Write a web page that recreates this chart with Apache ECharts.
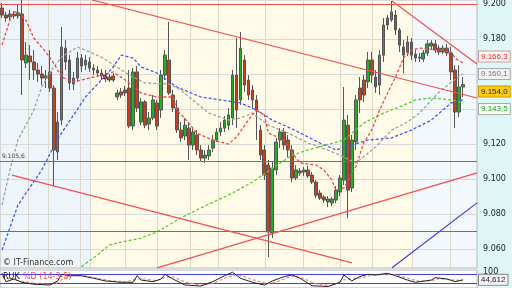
<!DOCTYPE html>
<html><head><meta charset="utf-8">
<script src="https://cdn.jsdelivr.net/npm/echarts/dist/echarts.min.js"></script>
<style>html,body{margin:0;padding:0;background:#fff}#c{width:512px;height:288px}</style>
</head><body><div id="c"></div>
<script>
// ---- price candles (index = bar number) ----
const opens = [9.1977,9.1937,9.1926,9.1943,9.1932,9.1943,9.1663,9.1703,9.1669,9.1623,
9.1600,9.1577,9.1612,9.1520,9.1155,9.1337,9.1748,9.1680,9.1543,9.1577,
9.1691,9.1651,9.1669,9.1634,9.1623,9.1606,9.1594,9.1583,9.1589,9.1469,
9.1498,9.1509,9.1520,9.1303,9.1612,9.1326,9.1441,9.1314,9.1349,9.1435,
9.1394,9.1594,9.1680,9.1480,9.1406,9.1280,9.1246,9.1291,9.1194,9.1252,
9.1166,9.1120,9.1132,9.1177,9.1223,9.1269,9.1291,9.1308,9.1349,9.1594,
9.1452,9.1680,9.1566,9.1509,9.1452,9.1280,9.1166,9.1080,9.0692,9.1052,
9.1223,9.1269,9.1223,9.1166,9.1006,9.1046,9.1040,9.1052,9.1023,9.0983,
9.0920,9.0897,9.0869,9.0863,9.0880,9.0926,9.0994,9.1308,9.0949,9.1212,
9.1520,9.1566,9.1555,9.1680,9.1583,9.1537,9.1708,9.1920,9.1909,9.1937,
9.1852,9.1754,9.1726,9.1783,9.1714,9.1697,9.1686,9.1720,9.1760,9.1772,
9.1748,9.1726,9.1748,9.1720,9.1623,9.1383,9.1526];
const closes = [9.1937,9.1920,9.1943,9.1932,9.1949,9.1680,9.1708,9.1669,9.1623,9.1600,
9.1577,9.1589,9.1520,9.1166,9.1326,9.1754,9.1669,9.1549,9.1577,9.1691,
9.1646,9.1680,9.1634,9.1623,9.1606,9.1589,9.1572,9.1566,9.1566,9.1492,
9.1480,9.1492,9.1303,9.1612,9.1406,9.1441,9.1308,9.1349,9.1452,9.1303,
9.1594,9.1708,9.1492,9.1406,9.1280,9.1235,9.1308,9.1194,9.1269,9.1166,
9.1120,9.1137,9.1166,9.1223,9.1269,9.1291,9.1337,9.1366,9.1594,9.1394,
9.1748,9.1537,9.1480,9.1452,9.1394,9.1137,9.1023,9.0698,9.1063,9.1212,
9.1269,9.1194,9.1166,9.1006,9.1052,9.1035,9.1052,9.1018,9.0983,9.0908,
9.0891,9.0880,9.0886,9.0886,9.0937,9.1006,9.1337,9.0937,9.1223,9.1452,
9.1452,9.1480,9.1680,9.1594,9.1526,9.1708,9.1880,9.1880,9.1955,9.1852,
9.1765,9.1708,9.1783,9.1708,9.1691,9.1691,9.1720,9.1772,9.1777,9.1737,
9.1726,9.1748,9.1720,9.1612,9.1383,9.1526,9.1540];
const lows = [9.1920,9.1898,9.1909,9.1915,9.1915,9.1480,9.1634,9.1566,9.1566,9.1555,
9.1537,9.1520,9.1498,9.0960,9.1109,9.1308,9.1623,9.1509,9.1509,9.1555,
9.1612,9.1623,9.1612,9.1594,9.1583,9.1566,9.1555,9.1555,9.1555,9.1452,
9.1463,9.1475,9.1291,9.1280,9.1383,9.1308,9.1291,9.1280,9.1337,9.1280,
9.1349,9.1566,9.1480,9.1383,9.1263,9.1212,9.1223,9.1109,9.1166,9.1137,
9.1098,9.1092,9.1109,9.1155,9.1212,9.1246,9.1269,9.1280,9.1308,9.1291,
9.1423,9.1498,9.1452,9.1406,9.1223,9.1109,9.0994,9.0554,9.0663,9.1023,
9.1177,9.1166,9.1126,9.0983,9.0994,9.1018,9.1018,9.1006,9.0971,9.0891,
9.0880,9.0863,9.0840,9.0846,9.0863,9.0903,9.0966,9.0777,9.0926,9.1166,
9.1377,9.1440,9.1520,9.1549,9.1492,9.1480,9.1669,9.1852,9.1898,9.1823,
9.1726,9.1606,9.1703,9.1680,9.1669,9.1669,9.1669,9.1703,9.1737,9.1720,
9.1708,9.1714,9.1703,9.1566,9.1291,9.1354,9.1469];
const highs = [9.2006,9.1955,9.1966,9.1960,9.1994,9.2023,9.1783,9.1765,9.1737,9.1663,
9.1646,9.1623,9.1737,9.1537,9.1383,9.1869,9.1794,9.1708,9.1612,9.1726,
9.1714,9.1708,9.1697,9.1657,9.1646,9.1629,9.1623,9.1600,9.1606,9.1509,
9.1520,9.1532,9.1623,9.1634,9.1646,9.1463,9.1452,9.1383,9.1480,9.1452,
9.1623,9.1737,9.1898,9.1509,9.1452,9.1326,9.1349,9.1326,9.1291,9.1280,
9.1194,9.1166,9.1194,9.1252,9.1291,9.1326,9.1360,9.1406,9.1623,9.1806,
9.1840,9.1708,9.1594,9.1537,9.1480,9.1308,9.1194,9.1109,9.1098,9.1235,
9.1291,9.1291,9.1252,9.1194,9.1080,9.1063,9.1069,9.1075,9.1040,9.0994,
9.0937,9.0908,9.0903,9.0897,9.0960,9.1023,9.1526,9.1366,9.1252,9.1480,
9.1583,9.1594,9.1726,9.1726,9.1623,9.1737,9.1920,9.1937,9.2017,9.1966,
9.1863,9.1794,9.1817,9.1806,9.1737,9.1720,9.1737,9.1794,9.1794,9.1794,
9.1765,9.1765,9.1772,9.1754,9.1651,9.1651,9.1583];

// ---- indicator lines: [bar index, value] ----
const maRed = [[0,9.1765],[2,9.1909],[3,9.1955],[4,9.1955],[6,9.1909],[8,9.1806],[11,9.1726],[13,9.1663],[15,9.1583],[18,9.1555],[20,9.1566],[25,9.1594],[28,9.1612],[31,9.1566],[35,9.1492],[39,9.1469],[43,9.1469],[44,9.1394],[47,9.1320],[49,9.1263],[53,9.1223],[57,9.1200],[59,9.1240],[62,9.1337],[64,9.1394],[66,9.1366],[67,9.1263],[71,9.1223],[73,9.1149],[75,9.1092],[79,9.1080],[81,9.1052],[83,9.0994],[84,9.0937],[86,9.0949],[89,9.1069],[91,9.1206],[93,9.1280],[95,9.1394],[97,9.1492],[99,9.1583],[101,9.1691],[103,9.1737],[105,9.1748],[110,9.1737],[113,9.1726],[114,9.1691],[116,9.1663]];
const maGray = [[0,9.0851],[2,9.1052],[4,9.1223],[8,9.1394],[10,9.1526],[13,9.1640],[15,9.1697],[19,9.1754],[21,9.1737],[25,9.1697],[29,9.1640],[32,9.1594],[36,9.1549],[42,9.1543],[45,9.1509],[48,9.1452],[52,9.1377],[57,9.1337],[60,9.1349],[63,9.1377],[67,9.1308],[72,9.1263],[77,9.1206],[82,9.1166],[86,9.1126],[89,9.1092],[94,9.1183],[98,9.1280],[102,9.1326],[105,9.1377],[110,9.1498],[114,9.1570],[116,9.1601]];
const maBlue = [[0,9.0594],[4,9.0851],[10,9.1052],[14,9.1229],[18,9.1366],[21,9.1469],[25,9.1566],[28,9.1640],[30,9.1708],[33,9.1691],[35,9.1640],[39,9.1606],[44,9.1526],[50,9.1469],[55,9.1452],[60,9.1435],[64,9.1394],[68,9.1337],[72,9.1297],[76,9.1252],[80,9.1206],[84,9.1166],[88,9.1194],[92,9.1223],[98,9.1235],[103,9.1280],[108,9.1337],[113,9.1435],[116,9.1452]];
const maGreen = [[20,9.0500],[24,9.0566],[27,9.0623],[30,9.0640],[35,9.0663],[39,9.0698],[42,9.0738],[45,9.0778],[50,9.0835],[58,9.0920],[63,9.0983],[70,9.1092],[73,9.1137],[77,9.1166],[86,9.1223],[91,9.1320],[96,9.1377],[100,9.1412],[104,9.1452],[108,9.1463],[113,9.1452],[116,9.1435]];

// ---- oscillator ----
const stochK = [[0,88],[1,32],[3,50],[5,28],[8,15],[12,10],[14,37],[15,81],[17,72],[20,72],[23,55],[26,37],[30,28],[33,28],[34,72],[35,43],[38,32],[40,50],[41,81],[43,50],[46,10],[50,3],[53,32],[56,72],[58,95],[60,55],[63,28],[66,10],[68,37],[71,66],[73,77],[75,55],[78,5],[82,0],[85,28],[86,77],[88,37],[90,66],[92,81],[94,77],[97,88],[99,72],[102,43],[104,28],[108,43],[109,59],[112,50],[114,32],[116,44.612]];
const stochD = [[0,70],[2,50],[5,35],[8,22],[12,14],[14,25],[16,65],[18,75],[21,70],[24,55],[27,40],[31,30],[34,50],[36,50],[39,38],[41,62],[43,65],[46,30],[50,8],[53,20],[56,55],[59,80],[61,65],[64,38],[67,18],[69,30],[72,60],[74,70],[76,50],[79,18],[83,5],[86,45],[88,50],[90,55],[93,75],[96,80],[99,80],[102,55],[105,35],[108,38],[110,52],[113,45],[116,38]];
const stochLevels = [80, 20];

// ---- drawn lines [x1,y1,x2,y2] in bar index / price ----
const redTrends = [[22.64,9.2023,119.5,9.1463],[98.12,9.2017,119.5,9.1658],[2.52,9.1023,88.05,9.0521],[39.0,9.0493,119.5,9.1035]];
const blueTrends = [[98.12,9.0493,119.5,9.0864]];
const redLevel = 9.2006;
const greenLevels = [9.1056, 9.0727];
const sessionLines = [6.54,11.58,19.63,22.14,30.95,39.0,47.3,54.34,66.17,75.73,85.03,93.08,103.15,112.71];
const bandEdges = [-0.5, 22.14, 103.15, 119.5];
const lastLabels = [
  {v: 9.1601, t: '9.160,1', c: '#777', bg: '#f2f2f2', b: '#aaa'},
  {v: 9.1663, t: '9.166,3', c: '#e02828', bg: '#fff4f4', b: '#c9a0a0'},
  {v: 9.1540, t: '9.154,0', c: '#222', bg: '#ffcc11', b: '#c99a00'},
  {v: 9.1435, t: '9.143,5', c: '#1c9a1c', bg: '#f4fff4', b: '#aaa'}
];

const N = 120;
const categories = Array.from({length: N}, (_, i) => 'B' + (i + 1));
const candles = opens.map((o, i) => [o, closes[i], lows[i], highs[i]]);
const F = 'DejaVu Sans';
const FL = 'Liberation Sans';
const HIDDEN = {color: 'rgba(0,0,0,0)', width: 0};

const chart = echarts.init(document.getElementById('c'), null, {renderer: 'canvas'});
const dashed = (name, data, color) => ({
  name, type: 'line', xAxisIndex: 1, yAxisIndex: 0, data, symbol: 'none', silent: true,
  lineStyle: {color, width: 1.3, type: [3, 2]}, z: 3
});
const seg = (t, color) => [{coord: [t[0], t[1]], lineStyle: {color, width: 1.2, type: 'solid'}}, {coord: [t[2], t[3]]}];

const option = {
  animation: false,
  backgroundColor: '#ffffff',
  textStyle: {fontFamily: F},
  graphic: [
    {type: 'rect', z: -10, shape: {x: 477, y: 0, width: 35, height: 288}, style: {fill: '#def6f6'}},
    {type: 'text', z: 50, left: 3, top: 259, style: {text: '© IT-Finance.com', fill: '#333', font: '8px ' + F}},
    {type: 'text', z: 50, left: 3, top: 271, style: {rich: {a: {fill: '#111', font: '8px ' + F}, b: {fill: '#ee5050', font: '8px ' + F}}, text: '{a|RUK} {b|%D (14-3-5)}'}}
  ],
  grid: [
    {left: 0, top: 0, width: 477, height: 268, show: true, borderColor: '#b8b8b8', borderWidth: 1, backgroundColor: 'transparent'},
    {left: 0, top: 270, width: 477, height: 18, show: true, borderColor: '#b8b8b8', borderWidth: 1, backgroundColor: '#fbfdff'}
  ],
  xAxis: [
    {type: 'category', gridIndex: 0, data: categories, boundaryGap: true, show: false},
    {type: 'value', gridIndex: 0, min: -0.5, max: N - 0.5, show: false},
    {type: 'value', gridIndex: 1, min: -0.5, max: N - 0.5, show: false}
  ],
  yAxis: [
    {type: 'value', gridIndex: 0, position: 'right', min: 9.0492, max: 9.2023, splitNumber: 8,
     axisLine: {show: false}, axisTick: {show: false},
     splitLine: {show: true, lineStyle: {color: '#d9d9d9', width: 1}},
     axisLabel: {fontSize: 8, color: '#222', margin: 6, showMinLabel: false, showMaxLabel: false,
       formatter: v => { const k = v / 0.02; return Math.abs(k - Math.round(k)) < 1e-6 ? v.toFixed(3) : ''; }}},
    {type: 'value', gridIndex: 1, position: 'right', min: -10, max: 110, splitNumber: 2,
     axisLine: {show: false}, axisTick: {show: false}, splitLine: {show: false},
     axisLabel: {fontSize: 8, color: '#222', margin: 6, formatter: v => (Math.abs(v - 100) < 1e-6 ? '100' : '')}}
  ],
  series: [
    {name: 'bg', type: 'line', xAxisIndex: 1, yAxisIndex: 0, data: [[-5, 9.1]], symbol: 'none', silent: true, z: -1,
     markArea: {silent: true, z: -1, data: [
       [{xAxis: bandEdges[0], itemStyle: {color: '#edf5fb'}}, {xAxis: bandEdges[1]}],
       [{xAxis: bandEdges[1], itemStyle: {color: '#fffbe8'}}, {xAxis: bandEdges[2]}],
       [{xAxis: bandEdges[2], itemStyle: {color: '#f2f8fc'}}, {xAxis: bandEdges[3]}]
     ]},
     markLine: {silent: true, z: -1, symbol: ['none', 'none'], label: {show: false},
       lineStyle: {color: '#dcdacd', width: 1, type: 'solid'},
       data: sessionLines.map(x => ({xAxis: x}))}
    },
    {name: 'price', type: 'candlestick', xAxisIndex: 0, yAxisIndex: 0, data: candles, barWidth: '80%', silent: true, z: 2,
     itemStyle: {color: '#1fb01f', color0: '#c4401a', borderColor: '#555', borderColor0: '#555', borderWidth: 1}},
    dashed('ma1', maGreen, '#55d035'),
    dashed('ma2', maBlue, '#4458f0'),
    dashed('ma3', maGray, '#a0a0a0'),
    dashed('ma4', maRed, '#f04848'),
    {name: 'trend', type: 'line', xAxisIndex: 1, yAxisIndex: 0, data: [[-5, 9.1]], symbol: 'none', silent: true,
     markLine: {silent: true, symbol: ['none', 'none'], label: {show: false}, z: 5,
       data: [
         {yAxis: redLevel, lineStyle: {color: '#f05050', width: 1.2, type: 'solid'}},
         {yAxis: greenLevels[0], lineStyle: {color: '#22a822', width: 1.2, type: 'solid'},
          label: {show: true, position: 'insideStartTop', distance: [1, 2], formatter: '9.105,6', fontSize: 6, color: '#444', backgroundColor: '#eeeeee', padding: [0, 1]}},
         {yAxis: greenLevels[1], lineStyle: {color: '#22a822', width: 1.2, type: 'solid'}},
         ...redTrends.map(t => seg(t, '#f05050')),
         ...blueTrends.map(t => seg(t, '#3a3ae8'))
       ]}
    },
    {name: 'labels', type: 'line', xAxisIndex: 1, yAxisIndex: 0, data: [[-5, 9.1]], symbol: 'none', silent: true,
     markLine: {silent: true, symbol: ['none', 'none'], z: 20, lineStyle: HIDDEN,
       data: lastLabels.map(l => ({yAxis: l.v, lineStyle: HIDDEN, label: {show: true, position: 'end', distance: 2, formatter: l.t,
         fontSize: 8, fontFamily: FL, color: l.c, backgroundColor: l.bg, borderColor: l.b, borderWidth: 1, padding: [1, 2]}}))}
    },
    {name: '%D', type: 'line', xAxisIndex: 2, yAxisIndex: 1, data: stochD, symbol: 'none', silent: true,
     lineStyle: {color: '#f08a8a', width: 1.2, type: [3, 2]}},
    {name: 'RUK', type: 'line', xAxisIndex: 2, yAxisIndex: 1, data: stochK, symbol: 'none', silent: true,
     lineStyle: {color: '#222', width: 1},
     markLine: {silent: true, symbol: ['none', 'none'], z: 1,
       data: [
         ...stochLevels.map(v => ({yAxis: v, lineStyle: {color: '#4040e0', width: 1, type: 'solid'}, label: {show: false}})),
         {yAxis: stochK[stochK.length - 1][1], lineStyle: HIDDEN,
          label: {show: true, position: 'end', distance: 2, formatter: '44,612', fontSize: 8, fontFamily: FL, color: '#222',
            backgroundColor: '#f4f4f4', borderColor: '#888', borderWidth: 1, padding: [1, 2]}}
       ]}
    }
  ]
};
chart.setOption(option);
</script>
</body></html>
